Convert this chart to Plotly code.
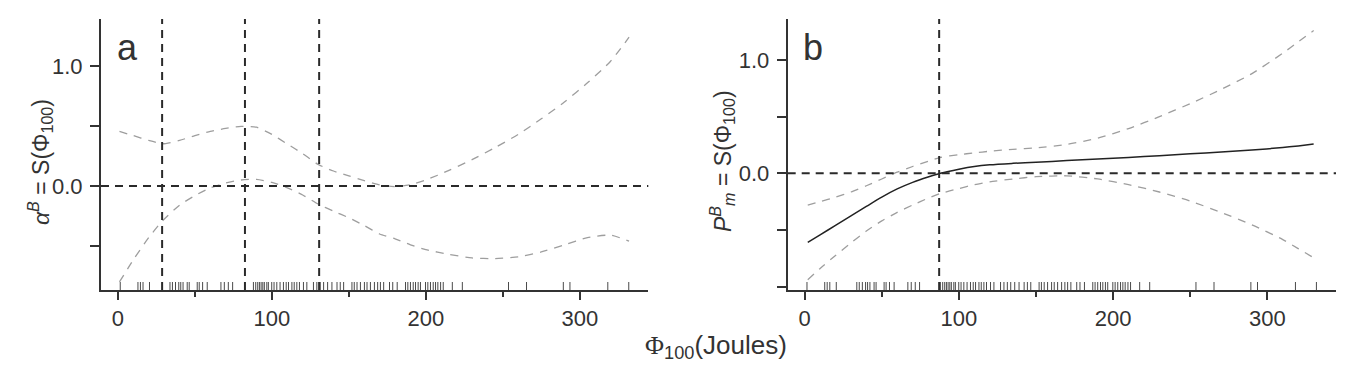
import plotly.graph_objects as go

# ---------------- data ----------------
# Panel a: confidence bands (gray dashed)
x_a = [1, 10, 20, 29, 40, 50, 60, 70, 80, 90, 100, 110, 120, 130, 140, 150, 160, 170,
       180, 190, 200, 215, 230, 245, 260, 275, 290, 305, 320, 332]
hi_a = [0.455, 0.42, 0.38, 0.352, 0.38, 0.42, 0.455, 0.48, 0.497, 0.49, 0.43, 0.35, 0.27,
        0.18, 0.125, 0.085, 0.045, 0.01, -0.005, 0.01, 0.05, 0.13, 0.22, 0.32, 0.43, 0.56,
        0.70, 0.86, 1.04, 1.24]
lo_a = [-0.80, -0.615, -0.43, -0.29, -0.16, -0.08, -0.015, 0.025, 0.05, 0.055, 0.03, -0.015,
        -0.075, -0.15, -0.21, -0.265, -0.33, -0.40, -0.44, -0.49, -0.53, -0.57, -0.60, -0.605,
        -0.59, -0.55, -0.49, -0.43, -0.41, -0.46]
vlines_a = [28.7, 82.5, 130.7]

# Panel b: fit (solid) and bands (gray dashed)
x_b = [2, 10, 20, 30, 40, 50, 60, 70, 80, 88, 100, 110, 120, 135, 150, 170, 190, 210, 230,
       250, 270, 290, 310, 320, 330]
fit_b = [-0.61, -0.543, -0.46, -0.375, -0.292, -0.21, -0.138, -0.08, -0.033, 0.0, 0.036,
         0.06, 0.075, 0.088, 0.098, 0.112, 0.126, 0.14, 0.155, 0.172, 0.188, 0.205, 0.228,
         0.242, 0.258]
hi_b = [-0.28, -0.25, -0.21, -0.165, -0.11, -0.05, 0.01, 0.06, 0.105, 0.14, 0.165, 0.18,
        0.195, 0.212, 0.225, 0.255, 0.31, 0.395, 0.5, 0.615, 0.74, 0.88, 1.06, 1.16, 1.26]
lo_b = [-0.94, -0.84, -0.725, -0.615, -0.51, -0.42, -0.345, -0.28, -0.22, -0.178, -0.135,
        -0.1, -0.075, -0.05, -0.03, -0.022, -0.05, -0.1, -0.165, -0.245, -0.345, -0.455,
        -0.585, -0.665, -0.745]
vlines_b = [87.2]

# Rug (observed Φ100 values)
rug = [1.5, 13, 14.6, 16.3, 20.5, 33.8, 35.4, 37.4, 39.5, 40.8, 42.3, 45, 46.3, 51.5, 52.8,
       55, 58, 66.9, 69.1, 71.7, 74.5, 88, 89.5, 90.8, 91.9, 93, 94.1, 95.1, 96.7, 97.7,
       99.9, 101.4, 103.2, 105.3, 107.5, 109.3, 110.8, 113, 114.5, 116.2, 117.9, 120.5,
       122.7, 127, 129.2, 131.4, 133.6, 136.2, 139, 142.3, 144.4, 146.6, 152, 153.5, 155.3,
       157.5, 160.1, 161.8, 164, 166.6, 168.7, 170.5, 172.6, 176.4, 178.5, 181.4, 186.8,
       188.3, 190, 191.8, 193.3, 195, 196.5, 199.8, 201.3, 203, 204.8, 206.3, 207.8, 209.6,
       211.3, 217.2, 223.7, 253.7, 265.4, 289.3, 293.6, 318.2, 331.8]

x_ticks = [0, 100, 200, 300]
x_minor = [50, 150, 250]
y_ticks_a = [-0.5, 0.0, 0.5, 1.0]
y_text_a = ["", "0.0", "", "1.0"]
y_ticks_b = [-1.0, -0.5, 0.0, 0.5, 1.0]
y_text_b = ["", "", "0.0", "", "1.0"]

# ---------------- style ----------------
PAGE_W, PAGE_H, BODY = 1363, 372, 8      # page body has an 8px margin
W, H = PAGE_W - 2 * BODY, PAGE_H - 2 * BODY


def px(x):
    return (x - BODY) / W


def py(y):
    return 1 - (y - BODY) / H


FONT = "Liberation Sans Narrow, Arial Narrow, Liberation Sans, Arial, sans-serif"
INK = "#333333"
BAND = "#9e9e9e"

fig = go.Figure()

band = dict(color=BAND, width=1.3, dash="8px,7px", shape="spline", smoothing=0.6)
fig.add_trace(go.Scatter(x=x_a, y=hi_a, mode="lines", line=band, xaxis="x", yaxis="y"))
fig.add_trace(go.Scatter(x=x_a, y=lo_a, mode="lines", line=band, xaxis="x", yaxis="y"))
fig.add_trace(go.Scatter(x=x_b, y=hi_b, mode="lines", line=band, xaxis="x2", yaxis="y2"))
fig.add_trace(go.Scatter(x=x_b, y=lo_b, mode="lines", line=band, xaxis="x2", yaxis="y2"))
fig.add_trace(go.Scatter(x=x_b, y=fit_b, mode="lines",
                         line=dict(color="#222222", width=1.5, shape="spline", smoothing=0.8),
                         xaxis="x2", yaxis="y2"))

shapes = []
dash_black = dict(color="#2a2a2a", width=2, dash="8px,6px")
for xr, yr, vl in (("x", "y", vlines_a), ("x2", "y2", vlines_b)):
    shapes.append(dict(type="line", xref=xr + " domain", yref=yr, x0=0, x1=1, y0=0, y1=0,
                       line=dash_black, layer="above"))
    for v in vl:
        shapes.append(dict(type="line", xref=xr, yref=yr + " domain", x0=v, x1=v, y0=0, y1=1,
                           line=dash_black, layer="above"))
    for r in rug:
        shapes.append(dict(type="line", xref=xr, yref=yr + " domain", x0=r, x1=r, y0=0,
                           y1=8 / 271, line=dict(color="#4a4a4a", width=1), layer="above"))

xdom_a = [px(101), px(648.3)]
xdom_b = [px(787.7), px(1336)]
ydom = [py(290), py(19)]


def xaxis(dom, anchor):
    return dict(domain=dom, anchor=anchor, range=[-11, 344.5], showline=True, linecolor=INK,
                linewidth=2, ticks="outside", ticklen=8, tickwidth=2, tickcolor=INK,
                tickvals=x_ticks, showgrid=False, zeroline=False,
                tickfont=dict(family=FONT, size=22, color=INK),
                minor=dict(tickvals=x_minor, ticks="outside", ticklen=5, tickwidth=2,
                           tickcolor=INK, showgrid=False))


def yaxis(dom, anchor, rng, tv, tt):
    return dict(domain=dom, anchor=anchor, range=rng, showline=True, linecolor=INK,
                linewidth=2, ticks="outside", ticklen=9, tickwidth=2, tickcolor=INK,
                tickvals=tv, ticktext=tt, showgrid=False, zeroline=False,
                ticklabelstandoff=3,
                tickfont=dict(family=FONT, size=22, color=INK))


annotations = [
    dict(text="a", x=px(127), y=py(47), xref="paper", yref="paper", showarrow=False,
         xanchor="center", yanchor="middle", font=dict(family=FONT, size=36, color=INK)),
    dict(text="b", x=px(813), y=py(47), xref="paper", yref="paper", showarrow=False,
         xanchor="center", yanchor="middle", font=dict(family=FONT, size=36, color=INK)),
    dict(text="<i>α</i><sup><i>B</i></sup> = S(Φ<sub>100</sub>)", x=px(40), y=py(162),
         xref="paper", yref="paper", showarrow=False, textangle=-90, xanchor="center",
         yanchor="middle", font=dict(family=FONT, size=23, color=INK)),
    dict(text="<i>P</i><sup><i>B</i></sup><sub><i>m</i></sub> = S(Φ<sub>100</sub>)",
         x=px(722), y=py(161), xref="paper", yref="paper", showarrow=False,
         textangle=-90, xanchor="center", yanchor="middle",
         font=dict(family=FONT, size=23, color=INK)),
    dict(text="<span style='font-family:Liberation Serif'>Φ</span><sub>100</sub>(Joules)",
         x=px(716), y=py(346), xref="paper", yref="paper", showarrow=False,
         xanchor="center", yanchor="middle", font=dict(family=FONT, size=26, color=INK)),
]

fig.update_layout(
    width=W, height=H, margin=dict(l=0, r=0, t=0, b=0),
    paper_bgcolor="white", plot_bgcolor="white", showlegend=False,
    xaxis=xaxis(xdom_a, "y"), yaxis=yaxis(ydom, "x", [-0.867, 1.392], y_ticks_a, y_text_a),
    xaxis2=xaxis(xdom_b, "y2"), yaxis2=yaxis(ydom, "x2", [-1.03, 1.362], y_ticks_b, y_text_b),
    shapes=shapes, annotations=annotations, hovermode=False,
)

fig.write_html("out.html")
